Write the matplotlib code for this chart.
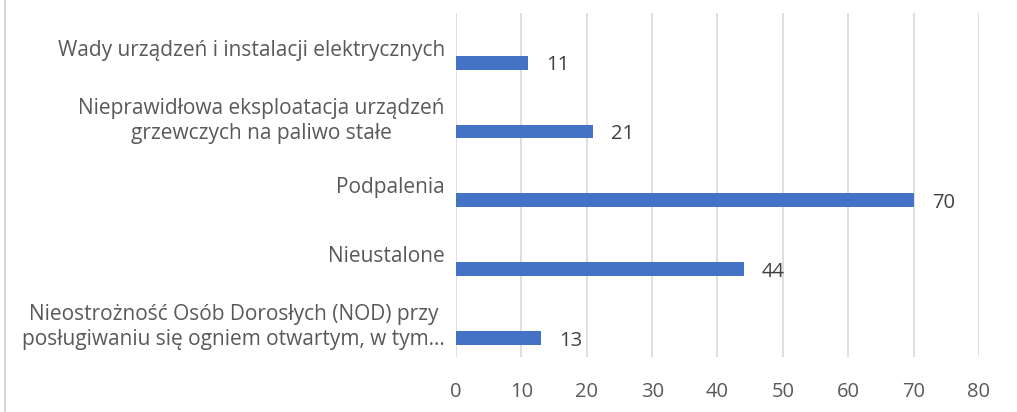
import matplotlib.pyplot as plt
from matplotlib.lines import Line2D

plt.rcParams['font.family'] = ['Open Sans', 'DejaVu Sans']

# dane
kategorie = [
    'Wady urządzeń i instalacji elektrycznych',
    'Nieprawidłowa eksploatacja urządzeń\ngrzewczych na paliwo stałe',
    'Podpalenia',
    'Nieustalone',
    'Nieostrożność Osób Dorosłych (NOD) przy\nposługiwaniu się ogniem otwartym, w tym…',
]
wartosci = [11, 21, 70, 44, 13]
xticks = [0, 10, 20, 30, 40, 50, 60, 70, 80]

szary = '#595959'

fig = plt.figure(figsize=(10.17, 4.12), dpi=100)
ax = fig.add_axes([0.4484, 0.1335, 0.5142, 0.8345])

pos = list(range(len(kategorie)))
# slupki przesuniete w dol wzgledem etykiet (jak w Excelu)
ax.barh([p + 0.22 for p in pos], wartosci, height=0.2, color='#4472c4', zorder=3)

for p, v in zip(pos, wartosci):
    ax.annotate(str(v), (v, p + 0.22), xytext=(13, -2), textcoords='offset points',
                va='center', ha='left', fontsize=14.5, color='#404040')

ax.set_xlim(0, 80)
ax.set_ylim(4.5, -0.5)
ax.set_xticks(xticks)
ax.set_yticks(pos)
ax.set_yticklabels(kategorie, multialignment='center', linespacing=1.25)
ax.tick_params(axis='y', length=0, pad=8, labelsize=15, labelcolor=szary)
ax.tick_params(axis='x', length=0, pad=18, labelsize=14.5, labelcolor=szary)
ax.grid(axis='x', color='#d9d9d9', linewidth=1.2, zorder=0)
for s in ax.spines.values():
    s.set_visible(False)

# ramka z lewej
fig.add_artist(Line2D([0.005, 0.005], [0, 1], transform=fig.transFigure,
                      color='#d0d0d0', linewidth=1.2))

plt.savefig('out.png', dpi=100)
